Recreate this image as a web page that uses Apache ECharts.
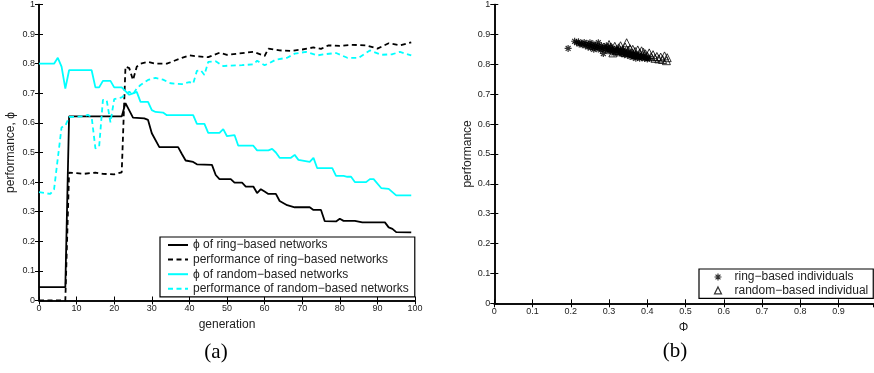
<!DOCTYPE html>
<html>
<head>
<meta charset="utf-8">
<script src="https://cdn.jsdelivr.net/npm/echarts@6/dist/echarts.min.js"></script>
<style>
html,body{margin:0;padding:0;background:#fff;}
#c{width:874px;height:373px;}
</style>
</head>
<body>
<div id="c"></div>
<script>
// ---------- Data (a) ----------
const ringPhiGen = [0,7,8,22,23,25,28,29,30,32,37,38,39,41,42,46,47,48,51,52,54,55,57,58,59,60,61,63,64,66,68,72,73,75,76,79,80,81,84,86,92,93,94,95,99];
const ringPhiVal = [0.045,0.045,0.622,0.622,0.667,0.618,0.615,0.61,0.565,0.518,0.518,0.495,0.473,0.468,0.46,0.458,0.424,0.41,0.41,0.398,0.398,0.385,0.385,0.363,0.376,0.368,0.36,0.36,0.336,0.322,0.315,0.315,0.306,0.306,0.268,0.267,0.276,0.269,0.269,0.264,0.264,0.247,0.242,0.231,0.23];

const ringPerfGen = [0,7,8,10,12,15,17,20,22,23,24,25,26,27,29,31,34,36,38,40,42,45,48,50,53,57,60,61,64,67,70,73,75,77,80,83,87,90,93,96,99];
const ringPerfVal = [0,0,0.432,0.43,0.428,0.432,0.428,0.426,0.433,0.79,0.785,0.745,0.79,0.8,0.806,0.8,0.8,0.81,0.82,0.828,0.825,0.822,0.837,0.83,0.834,0.84,0.826,0.851,0.845,0.843,0.848,0.855,0.85,0.862,0.86,0.864,0.862,0.851,0.869,0.862,0.872];

const randPhiGen = [0,4,5,6,7,8,14,15,16,17,19,20,22,24,25,26,27,29,30,31,33,34,41,42,44,45,48,49,50,52,53,57,58,61,62,63,64,67,68,69,72,73,74,78,79,81,82,83,84,87,88,89,91,93,95,99];
const randPhiVal = [0.8,0.8,0.82,0.79,0.716,0.778,0.778,0.72,0.72,0.742,0.742,0.72,0.72,0.695,0.7,0.705,0.671,0.671,0.643,0.637,0.635,0.626,0.626,0.597,0.597,0.566,0.566,0.579,0.555,0.559,0.523,0.523,0.507,0.507,0.512,0.5,0.482,0.482,0.492,0.475,0.468,0.482,0.447,0.447,0.421,0.421,0.418,0.418,0.4,0.4,0.41,0.41,0.38,0.377,0.355,0.355];

const randPerfGen = [0,2,3,4,5,6,7,8,12,13,14,15,16,17,18,19,20,22,23,24,25,26,27,29,31,33,35,38,40,41,42,43,44,45,47,48,49,50,54,57,58,60,61,63,66,68,71,74,76,79,82,85,88,91,94,96,99];
const randPerfVal = [0.366,0.362,0.36,0.375,0.48,0.585,0.59,0.62,0.622,0.627,0.62,0.514,0.52,0.678,0.677,0.602,0.68,0.686,0.697,0.705,0.697,0.716,0.728,0.745,0.752,0.746,0.734,0.731,0.738,0.733,0.776,0.778,0.762,0.806,0.808,0.8,0.792,0.793,0.795,0.798,0.81,0.795,0.8,0.814,0.82,0.834,0.84,0.828,0.832,0.836,0.82,0.82,0.845,0.83,0.832,0.84,0.828];

// ---------- Data (b) ----------
const ringIndPhi = [0.193,0.21,0.215,0.22,0.222,0.228,0.23,0.235,0.238,0.24,0.245,0.247,0.25,0.252,0.255,0.258,0.26,0.262,0.265,0.268,0.27,0.272,0.275,0.278,0.28,0.283,0.285,0.287,0.29,0.293,0.295,0.298,0.3,0.303,0.305,0.308,0.31,0.313,0.315,0.318,0.32,0.323,0.325,0.328,0.33,0.333,0.335,0.338,0.34,0.343,0.345,0.348,0.35,0.353,0.355,0.358,0.36,0.363,0.365,0.368,0.37,0.373,0.375,0.378,0.38,0.383,0.386,0.39,0.393,0.397,0.4,0.405];
const ringIndPerf = [0.853,0.877,0.872,0.875,0.868,0.87,0.865,0.873,0.862,0.868,0.858,0.866,0.872,0.855,0.862,0.868,0.85,0.857,0.863,0.852,0.86,0.872,0.855,0.848,0.862,0.853,0.836,0.858,0.85,0.862,0.845,0.855,0.848,0.858,0.842,0.852,0.845,0.838,0.85,0.843,0.852,0.838,0.846,0.84,0.85,0.835,0.843,0.838,0.832,0.845,0.836,0.83,0.84,0.833,0.826,0.838,0.83,0.824,0.835,0.828,0.82,0.832,0.825,0.83,0.82,0.827,0.822,0.828,0.819,0.823,0.818,0.82];
const randIndPhi = [0.3,0.305,0.31,0.315,0.32,0.325,0.33,0.335,0.34,0.342,0.346,0.35,0.355,0.36,0.362,0.368,0.37,0.375,0.38,0.385,0.388,0.39,0.395,0.4,0.405,0.41,0.415,0.42,0.425,0.43,0.435,0.44,0.445,0.45,0.452];
const randIndPerf = [0.866,0.858,0.838,0.86,0.845,0.855,0.862,0.848,0.84,0.858,0.872,0.846,0.852,0.838,0.85,0.843,0.832,0.848,0.838,0.845,0.83,0.84,0.835,0.828,0.838,0.825,0.832,0.82,0.826,0.818,0.824,0.816,0.828,0.812,0.822];

const zip = (a, b) => a.map((v, i) => [v, b[i]]);

const FONT = 'Liberation Sans';
const TXT = '#222';
const asterisk = 'path://M5,0L5,10M0,5L10,5M1.5,1.5L8.5,8.5M1.5,8.5L8.5,1.5';

function mainAxis(extra) {
  return Object.assign({
    type: 'value',
    axisLine: {show: true, lineStyle: {color: '#000', width: 1.5}},
    axisTick: {show: true, inside: true, length: 4, lineStyle: {color: '#000', width: 1}},
    axisLabel: {show: true, fontFamily: FONT, fontSize: 9, color: TXT, margin: 4},
    splitLine: {show: false}
  }, extra);
}
function mirrorAxis(extra) {
  return Object.assign({
    type: 'value',
    axisLine: {show: true, lineStyle: {color: '#000', width: 1.5}},
    axisTick: {show: true, inside: true, length: 4, lineStyle: {color: '#000', width: 1}},
    axisLabel: {show: false},
    splitLine: {show: false}
  }, extra);
}

const lineCommon = {type: 'line', symbol: 'none', showSymbol: false, xAxisIndex: 0, yAxisIndex: 0, animation: false};

const chart = echarts.init(document.getElementById('c'), null, {renderer: 'canvas'});
chart.setOption({
  animation: false,
  backgroundColor: '#fff',
  grid: [
    {left: 39, top: 4, width: 376, height: 296.5, containLabel: false},
    {left: 494.3, top: 1.5, width: 378.7, height: 301.8, containLabel: false}
  ],
  xAxis: [
    mainAxis({gridIndex: 0, min: 0, max: 100, interval: 10, name: 'generation', nameLocation: 'middle', nameGap: 15,
      nameTextStyle: {fontFamily: FONT, fontSize: 12, color: TXT}}),
    mirrorAxis({gridIndex: 0, min: 0, max: 100, interval: 10, position: 'top'}),
    mainAxis({gridIndex: 1, min: 0, max: 0.99, interval: 0.1, name: 'Φ', nameLocation: 'middle', nameGap: 14,
      axisLabel: {fontFamily: FONT, fontSize: 9, color: TXT, margin: 4, showMaxLabel: false},
      nameTextStyle: {fontFamily: FONT, fontSize: 12, color: TXT}}),
    mirrorAxis({gridIndex: 1, min: 0, max: 0.99, interval: 0.1, position: 'top'})
  ],
  yAxis: [
    mainAxis({gridIndex: 0, min: 0, max: 1, interval: 0.1, name: 'performance, ϕ', nameLocation: 'middle', nameGap: 22,
      nameTextStyle: {fontFamily: FONT, fontSize: 12, color: TXT}}),
    mirrorAxis({gridIndex: 0, min: 0, max: 1, interval: 0.1, position: 'right'}),
    mainAxis({gridIndex: 1, min: 0, max: 1, interval: 0.1, name: 'performance', nameLocation: 'middle', nameGap: 20,
      nameTextStyle: {fontFamily: FONT, fontSize: 12, color: TXT}}),
    mirrorAxis({gridIndex: 1, min: 0, max: 1, interval: 0.1, position: 'right'})
  ],
  legend: [
    {
      data: ['ϕ of ring−based networks', 'performance of ring−based networks', 'ϕ of random−based networks', 'performance of random−based networks'],
      orient: 'vertical', left: 160, top: 237,
      padding: [2, 6, 2, 7], itemGap: 2.6, itemWidth: 20, itemHeight: 12,
      itemStyle: {opacity: 0},
      borderColor: '#000', borderWidth: 1.2, backgroundColor: '#fff',
      textStyle: {fontFamily: FONT, fontSize: 12, color: TXT},
      selectedMode: false
    },
    {
      data: [
        {name: 'ring−based individuals', icon: asterisk, itemStyle: {color: 'none', borderColor: '#000', borderWidth: 1.2}},
        {name: 'random−based individual', icon: 'triangle', itemStyle: {color: 'none', borderColor: '#000', borderWidth: 1.2}}
      ],
      orient: 'vertical', left: 699, top: 269,
      padding: [2, 5, 2, 13], itemGap: 1.4, itemWidth: 7, itemHeight: 7,
      borderColor: '#000', borderWidth: 1.2, backgroundColor: '#fff',
      textStyle: {fontFamily: FONT, fontSize: 12, color: TXT, padding: [0, 0, 0, 8]},
      selectedMode: false
    }
  ],
  series: [
    Object.assign({}, lineCommon, {name: 'ϕ of ring−based networks', data: zip(ringPhiGen, ringPhiVal),
      lineStyle: {color: '#000', width: 1.8, type: 'solid'}, itemStyle: {color: '#000'}}),
    Object.assign({}, lineCommon, {name: 'performance of ring−based networks', data: zip(ringPerfGen, ringPerfVal),
      lineStyle: {color: '#000', width: 1.8, type: [5, 3.5]}, itemStyle: {color: '#000'}}),
    Object.assign({}, lineCommon, {name: 'ϕ of random−based networks', data: zip(randPhiGen, randPhiVal),
      lineStyle: {color: '#00ffff', width: 1.8, type: 'solid'}, itemStyle: {color: '#00ffff'}}),
    Object.assign({}, lineCommon, {name: 'performance of random−based networks', data: zip(randPerfGen, randPerfVal),
      lineStyle: {color: '#00ffff', width: 1.8, type: [5, 3.5]}, itemStyle: {color: '#00ffff'}}),
    {type: 'scatter', name: 'ring−based individuals', xAxisIndex: 2, yAxisIndex: 2,
      data: zip(ringIndPhi, ringIndPerf), symbol: asterisk, symbolSize: 7,
      itemStyle: {color: 'none', borderColor: '#000', borderWidth: 1.2}},
    {type: 'scatter', name: 'random−based individual', xAxisIndex: 2, yAxisIndex: 2,
      data: zip(randIndPhi, randIndPerf), symbol: 'triangle', symbolSize: 8,
      itemStyle: {color: 'none', borderColor: '#000', borderWidth: 1}}
  ],
  graphic: [
    {type: 'text', x: 216, y: 352, style: {text: '(a)', font: '21px "Liberation Serif"', fill: '#000', textAlign: 'center', textVerticalAlign: 'middle'}},
    {type: 'text', x: 675, y: 351, style: {text: '(b)', font: '21px "Liberation Serif"', fill: '#000', textAlign: 'center', textVerticalAlign: 'middle'}}
  ]
});
</script>
</body>
</html>
